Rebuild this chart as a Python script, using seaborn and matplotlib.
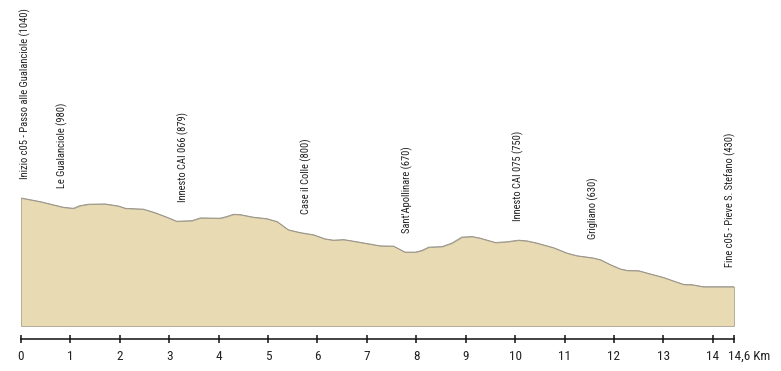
import numpy as np
import pandas as pd
import matplotlib
matplotlib.use('Agg')
import matplotlib.pyplot as plt
import matplotlib.transforms as mtransforms
from matplotlib import font_manager
import seaborn as sns

# profilo altimetrico: distanza (km) e quota (m)
dist = [0.0, 0.385, 0.857, 1.06, 1.19, 1.36, 1.70, 1.97, 2.11, 2.48, 2.71,
        2.95, 3.15, 3.46, 3.63, 4.03, 4.16, 4.30, 4.43, 4.70, 4.97, 5.18,
        5.41, 5.65, 5.92, 6.15, 6.32, 6.53, 6.73, 7.07, 7.27, 7.54, 7.77,
        7.98, 8.11, 8.25, 8.52, 8.72, 8.92, 9.13, 9.29, 9.60, 9.83, 10.07,
        10.24, 10.44, 10.78, 11.05, 11.25, 11.56, 11.73, 11.93, 12.13,
        12.27, 12.50, 12.67, 13.0, 13.21, 13.41, 13.58, 13.81, 14.43]
quota = [1040, 1015, 976, 969, 987, 997, 999, 985, 969, 963, 939,
         908, 880, 884, 903, 901, 912, 928, 926, 908, 898, 878,
         821, 802, 787, 759, 750, 754, 743, 723, 711, 709, 668,
         668, 679, 702, 706, 730, 771, 775, 764, 734, 739, 750,
         745, 730, 698, 661, 643, 629, 615, 581, 552,
         542, 540, 524, 494, 469, 446, 444, 430, 430]

# punti notevoli
nomi = ["Inizio c05 - Passo alle Gualanciole (1040)",
        "Le Gualanciole (980)",
        "Innesto CAI 066 (879)",
        "Case il Colle (800)",
        "Sant'Apollinare (670)",
        "Innesto CAI 075 (750)",
        "Grigliano (630)",
        "Fine c05 - Pieve S. Stefano (430)"]
km_punti = [0.08, 0.84, 3.28, 5.78, 7.81, 10.07, 11.58, 14.35]

tick_km = [0, 1, 2, 3, 4, 5, 6, 7, 8, 9, 10, 11, 12, 13, 14, 14.43]
tick_lab = ['0', '1', '2', '3', '4', '5', '6', '7', '8', '9', '10', '11',
            '12', '13', '14', '14,6 Km']

df = pd.DataFrame({'km': dist, 'quota': quota})

sns.set_style('white')

# cerco un font stretto tra quelli installati
nomi_font = set(f.name for f in font_manager.fontManager.ttflist)
stretti = [f.name for f in font_manager.fontManager.ttflist
           if f.stretch in ('condensed', 'semi-condensed', 'extra-condensed')
           or 'Condensed' in f.name or 'Narrow' in f.name]
preferiti = ['Noto Sans Condensed', 'DejaVu Sans Condensed',
             'Liberation Sans Narrow', 'Roboto Condensed',
             'Open Sans Condensed']
scelta = [n for n in preferiti if n in nomi_font] + sorted(set(stretti))
famiglia = (scelta[:1] if scelta else []) + ['DejaVu Sans']
plt.rcParams['font.family'] = famiglia
plt.rcParams['font.stretch'] = 'condensed'
stretto = bool(scelta)

fig = plt.figure(figsize=(7.81, 3.71), dpi=100)
ax = fig.add_axes([21 / 781, 45 / 371, 713 / 781, 326 / 371])

base = 160
ax.fill_between(df['km'], df['quota'], base, color='#E8DAB3',
                edgecolor='#a8a292', linewidth=0.6)
sns.lineplot(data=df, x='km', y='quota', ax=ax, color='#959082',
             linewidth=0.6)

ax.set_xlim(0, dist[-1])
ax.set_ylim(base, 2400)

for s in ['left', 'top', 'right']:
    ax.spines[s].set_visible(False)
ax.spines['bottom'].set_position(('outward', 9.4))
ax.spines['bottom'].set_linewidth(1.1)
ax.spines['bottom'].set_color('#111111')
ax.set_yticks([])
ax.set_xticks(tick_km)
ax.set_xticklabels(tick_lab)
ax.tick_params(axis='x', bottom=True, direction='inout', length=6, width=1.1,
               color='#111111', pad=5, labelsize=9.5 if stretto else 8.5,
               labelcolor='#222222')
ax.set_xlabel('')
ax.set_ylabel('')

# etichetta finale spostata a destra
ultima = ax.get_xticklabels()[-1]
ultima.set_horizontalalignment('left')
ultima.set_transform(ultima.get_transform() +
                     mtransforms.ScaledTranslation(-6 / 100, 0,
                                                   fig.dpi_scale_trans))

for nome, k in zip(nomi, km_punti):
    q = np.interp(k, dist, quota)
    ax.annotate(nome, xy=(k, q), xytext=(0, 14), textcoords='offset points',
                rotation=90, ha='center', va='bottom',
                fontsize=7.6 if stretto else 6.4,
                color='#222222', annotation_clip=False)

fig.savefig('out.png', dpi=100)
